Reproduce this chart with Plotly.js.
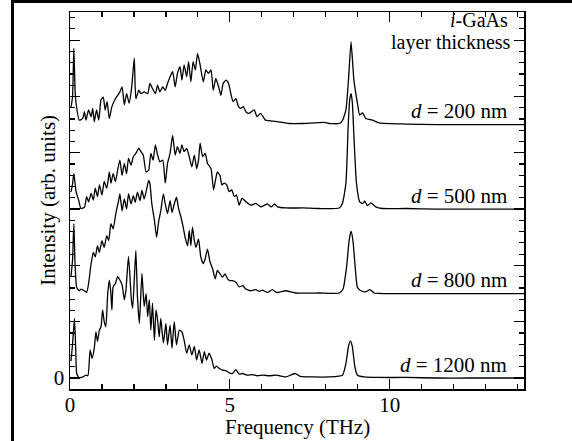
<!DOCTYPE html>
<html><head><meta charset="utf-8">
<script src="https://cdn.plot.ly/plotly-3.0.1.min.js"></script>
<style>
html,body{margin:0;padding:0;background:#fff;width:572px;height:441px;overflow:hidden;}
#wrap{position:relative;width:572px;height:441px;overflow:hidden;background:#fff;}
#chart{width:572px;height:441px;}
#frame{position:absolute;left:11px;top:0;width:561px;height:441px;box-sizing:border-box;border-top:3px solid #000;border-left:3px solid #000;pointer-events:none;z-index:10;}
</style>
</head><body>
<div id="wrap"><div id="chart"></div><div id="frame"></div></div>
<script>
// Frequency (THz) and intensity (arb. units, relative to each trace's own baseline)
const d200_x = [0.03,0.08,0.12,0.16,0.19,0.29,0.40,0.45,0.50,0.58,0.66,0.71,0.76,0.83,0.90,0.97,1.04,1.10,1.16,1.23,1.31,1.42,1.49,1.56,1.63,1.70,1.77,1.85,1.93,2.01,2.06,2.15,2.22,2.32,2.43,2.50,2.58,2.67,2.74,2.81,2.90,2.98,3.05,3.13,3.21,3.29,3.36,3.44,3.50,3.57,3.65,3.71,3.78,3.85,3.92,3.99,4.06,4.17,4.25,4.33,4.41,4.48,4.56,4.65,4.72,4.79,4.88,4.96,5.03,5.10,5.19,5.27,5.34,5.42,5.50,5.60,5.76,5.85,5.96,6.11,6.23,6.54,6.85,7.27,7.95,8.10,8.42,8.52,8.63,8.71,8.79,8.88,8.99,9.06,9.15,9.25,9.46,9.67,10.5,11.5,12.5,13.5,14.2];
const d200_y = [0.3,0.5,1.36,0.6,0.38,0.08,0.11,0.23,0.08,0.26,0.14,0.29,0.05,0.26,0.08,0.44,0.49,0.26,0.41,0.11,0.32,0.46,0.52,0.58,0.67,0.35,0.55,0.38,0.67,1.18,0.46,0.61,0.55,0.58,0.55,0.73,0.64,0.55,0.70,0.58,0.67,0.61,0.73,0.85,0.94,0.67,0.91,1.03,0.79,1.06,0.85,1.12,0.76,1.12,0.97,1.26,1.09,0.76,0.97,0.91,0.97,0.61,0.82,0.67,0.52,0.73,0.79,0.73,0.55,0.41,0.46,0.32,0.29,0.32,0.23,0.20,0.26,0.14,0.20,0.08,0.07,0.05,0.02,0.02,0.04,0.02,0.02,0.07,0.26,0.79,1.47,0.79,0.38,0.17,0.21,0.11,0.08,0.03,0.01,0.0,0.0,0.0,0.0];

const d500_x = [0.03,0.08,0.12,0.16,0.19,0.27,0.34,0.45,0.52,0.58,0.66,0.73,0.79,0.86,0.92,1.00,1.07,1.15,1.23,1.28,1.35,1.42,1.49,1.56,1.63,1.70,1.77,1.83,1.91,1.98,2.06,2.15,2.22,2.29,2.38,2.46,2.53,2.60,2.67,2.74,2.81,2.90,2.98,3.05,3.13,3.21,3.29,3.36,3.44,3.50,3.57,3.65,3.73,3.81,3.89,3.96,4.02,4.07,4.15,4.23,4.30,4.41,4.49,4.56,4.61,4.69,4.75,4.82,4.90,4.98,5.06,5.14,5.21,5.29,5.38,5.45,5.50,5.66,5.81,5.97,6.18,6.29,6.40,6.49,6.75,7.30,7.79,8.42,8.52,8.63,8.70,8.75,8.79,8.83,8.88,8.96,9.06,9.15,9.22,9.30,9.41,9.56,9.77,10.5,11.5,12.5,13.5,14.2];
const d500_y = [0.3,0.45,0.63,0.45,0.31,0.16,0.01,0.03,0.22,0.13,0.28,0.16,0.37,0.22,0.43,0.25,0.49,0.37,0.66,0.46,0.63,0.49,0.69,0.87,0.60,0.81,0.63,0.90,0.78,0.93,0.99,1.08,1.02,0.96,0.66,0.69,0.99,0.87,1.14,0.96,0.84,0.87,0.46,0.81,0.99,1.31,0.96,1.11,0.99,1.14,1.02,1.08,0.93,0.75,0.96,0.72,0.87,1.17,0.93,0.99,0.81,0.72,0.34,0.54,0.66,0.60,0.43,0.46,0.43,0.31,0.34,0.22,0.25,0.07,0.19,0.16,0.13,0.07,0.10,0.04,0.09,0.04,0.09,0.04,0.02,0.02,0.01,0.02,0.10,0.46,1.46,1.95,2.05,1.90,1.30,0.46,0.13,0.10,0.14,0.06,0.11,0.04,0.01,0.01,0.0,0.0,0.0,0.0];

const d800_x = [0.03,0.08,0.12,0.16,0.21,0.29,0.35,0.45,0.52,0.58,0.66,0.73,0.79,0.86,0.92,1.00,1.07,1.15,1.21,1.28,1.35,1.44,1.52,1.56,1.63,1.70,1.77,1.83,1.91,1.98,2.04,2.11,2.19,2.25,2.32,2.40,2.46,2.50,2.56,2.64,2.71,2.77,2.84,2.92,2.98,3.05,3.13,3.19,3.26,3.33,3.40,3.47,3.54,3.60,3.68,3.73,3.78,3.83,3.89,3.94,4.02,4.09,4.17,4.23,4.30,4.38,4.46,4.54,4.61,4.69,4.77,4.85,4.93,5.00,5.08,5.19,5.29,5.40,5.50,5.65,5.81,5.92,6.02,6.18,6.33,6.45,6.75,7.06,7.80,8.42,8.54,8.65,8.73,8.79,8.85,8.92,8.99,9.10,9.25,9.38,9.51,9.77,10.5,11.5,12.5,13.5,14.2];
const d800_y = [0.3,0.6,1.24,0.5,0.11,0.05,0.08,0.05,0.02,0.17,0.53,0.73,0.65,0.85,0.73,0.94,0.82,1.03,0.94,1.24,1.15,1.44,1.65,1.77,1.47,1.68,1.50,1.77,1.59,1.74,1.62,1.80,1.65,1.83,1.68,1.86,2.01,1.95,1.59,1.30,1.00,1.27,1.47,1.77,1.59,1.42,1.65,1.44,1.59,1.71,1.50,1.36,1.18,1.00,0.85,1.12,0.85,1.18,0.94,0.82,0.97,0.65,0.53,0.62,0.79,0.56,0.44,0.26,0.41,0.35,0.29,0.35,0.26,0.23,0.23,0.20,0.12,0.14,0.08,0.05,0.07,0.04,0.06,0.02,0.07,0.02,0.05,0.01,0.01,0.01,0.08,0.47,0.94,1.11,0.94,0.47,0.11,0.05,0.03,0.07,0.01,0.0,0.0,0.0,0.0,0.0,0.0];

const d1200_x = [0.03,0.08,0.14,0.18,0.21,0.29,0.40,0.50,0.56,0.63,0.69,0.76,0.81,0.86,0.92,0.97,1.02,1.07,1.12,1.18,1.23,1.28,1.31,1.35,1.42,1.49,1.56,1.63,1.70,1.75,1.83,1.92,1.96,2.01,2.06,2.11,2.17,2.25,2.32,2.38,2.43,2.48,2.53,2.58,2.64,2.69,2.74,2.79,2.84,2.92,3.00,3.05,3.13,3.19,3.26,3.33,3.42,3.50,3.57,3.65,3.73,3.81,3.89,3.96,4.04,4.13,4.20,4.27,4.35,4.44,4.51,4.58,4.67,4.77,4.88,4.98,5.08,5.19,5.29,5.40,5.55,5.70,5.86,6.05,6.23,6.45,6.75,7.04,7.20,7.60,8.10,8.52,8.63,8.71,8.77,8.83,8.91,8.99,9.20,9.60,10.5,11.5,12.5,13.5,14.2];
const d1200_y = [0.3,0.6,1.06,0.5,0.08,0.0,0.02,0.05,0.04,0.50,0.35,0.53,0.82,0.65,0.85,0.91,1.21,1.00,0.91,1.50,1.74,1.50,1.21,1.62,1.68,1.80,1.74,1.65,1.39,1.56,2.16,1.39,1.24,1.74,2.26,1.44,0.97,1.86,1.27,1.50,1.09,1.39,0.85,1.33,0.67,1.21,1.03,0.73,1.06,0.62,0.97,0.59,0.94,0.53,1.00,0.59,0.85,0.82,0.67,0.44,0.59,0.41,0.56,0.32,0.50,0.26,0.47,0.32,0.44,0.32,0.17,0.21,0.17,0.14,0.13,0.09,0.08,0.15,0.07,0.08,0.05,0.06,0.04,0.05,0.04,0.05,0.02,0.08,0.03,0.02,0.02,0.05,0.26,0.56,0.66,0.56,0.20,0.05,0.02,0.01,0.01,0.0,0.0,0.0,0.0];

const thicknessLabels = ['d = 200 nm','d = 500 nm','d = 800 nm','d = 1200 nm'];
const offsets = [4.5, 3.0, 1.5, 0.0];
const xTickVals = [0, 5, 10];
const xTickText = ['0', '5', '10'];
const yTickVals = [0, 1, 2, 3, 4, 5, 6];
const yTickText = ['0', '', '', '', '', '', ''];

const series = [[d200_x,d200_y],[d500_x,d500_y],[d800_x,d800_y],[d1200_x,d1200_y]];
const FONT = 'Liberation Serif, Times New Roman, serif';
const FS = 21;

const traces = series.map((s, i) => {
  const n = Math.min(s[0].length, s[1].length);
  return {
    x: s[0].slice(0, n),
    y: s[1].slice(0, n).map(v => v + offsets[i]),
    type: 'scatter', mode: 'lines',
    line: {color: '#000', width: 1.3, shape: 'spline', smoothing: 0.5},
    hoverinfo: 'skip', showlegend: false
  };
});

const ann = thicknessLabels.map((t, i) => ({
  xref: 'x', yref: 'y', x: 13.72, y: offsets[i] + 0.24,
  xanchor: 'right', yanchor: 'middle', showarrow: false,
  text: t.replace(/^d/, '<i>d</i>'),
  font: {family: FONT, size: FS, color: '#000'}
}));
ann.push({xref:'x', yref:'y', x:13.75, y:6.36, xanchor:'right', yanchor:'middle', showarrow:false,
  text:'<i>i</i>-GaAs', font:{family:FONT,size:20,color:'#000'}});
ann.push({xref:'x', yref:'y', x:13.86, y:5.96, xanchor:'right', yanchor:'middle', showarrow:false,
  text:'layer thickness', font:{family:FONT,size:20,color:'#000'}});
ann.push({xref:'paper', yref:'paper', x:0.5, y:-0.1, xanchor:'center', yanchor:'middle', showarrow:false,
  text:'Frequency (THz)', font:{family:FONT,size:FS,color:'#000'}});
ann.push({xref:'paper', yref:'paper', x:-0.05, y:0.5, xanchor:'center', yanchor:'middle', showarrow:false,
  textangle:-90, text:'Intensity (arb. units)', font:{family:FONT,size:FS,color:'#000'}});

const axisCommon = {
  showgrid: false, zeroline: false, showline: true, linecolor: '#000', linewidth: 1.5,
  mirror: 'ticks', ticks: 'inside', ticklen: 10, tickwidth: 1.2, tickcolor: '#000',
  tickfont: {family: FONT, size: FS, color: '#000'}, tickmode: 'array'
};

const layout = {
  width: 572, height: 441,
  margin: {l: 70, r: 48, t: 12, b: 52},
  paper_bgcolor: '#fff', plot_bgcolor: '#fff',
  xaxis: Object.assign({}, axisCommon, {
    range: [0, 14.2], tickvals: xTickVals, ticktext: xTickText, ticklabelstandoff: -4,
    minor: {tickmode: 'linear', tick0: 0, dtick: 1, ticks: 'inside', ticklen: 5, tickwidth: 1.2, tickcolor: '#000', showgrid: false}
  }),
  yaxis: Object.assign({}, axisCommon, {
    range: [-0.195, 6.5], tickvals: yTickVals, ticktext: yTickText,
    minor: {tickmode: 'linear', tick0: 0, dtick: 0.2, ticks: 'inside', ticklen: 5, tickwidth: 1.2, tickcolor: '#000', showgrid: false}
  }),
  annotations: ann,
  showlegend: false
};

Plotly.newPlot('chart', traces, layout, {staticPlot: true, displayModeBar: false});
</script>
</body></html>
